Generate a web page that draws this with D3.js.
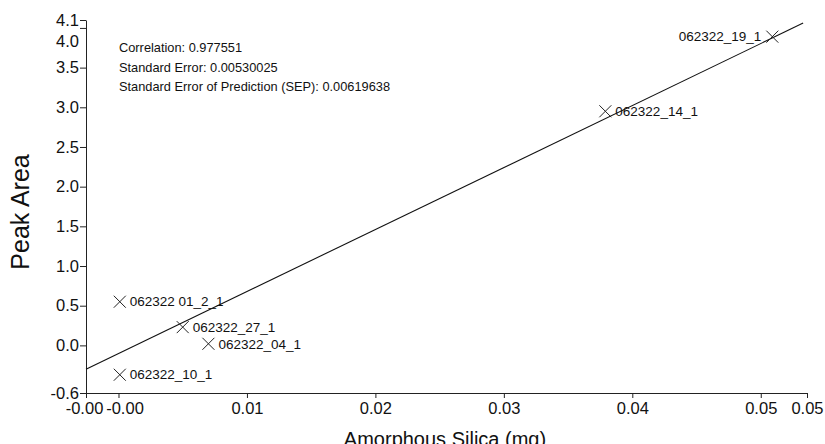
<!DOCTYPE html>
<html>
<head>
<meta charset="utf-8">
<script src="https://cdn.jsdelivr.net/npm/d3@7"></script>
<style>
  body { margin: 0; background: #fff; }
  text { font-family: "Liberation Sans", Arial, sans-serif; fill: #111; }
</style>
</head>
<body>
<div id="chart"></div>
<script>
// sample names and measured values
const samples = ["062322 01_2_1", "062322_27_1", "062322_04_1", "062322_10_1", "062322_14_1", "062322_19_1"];
const silica = [0.0001, 0.0050, 0.0070, 0.0001, 0.0379, 0.0509];
const peakArea = [0.55, 0.23, 0.02, -0.37, 2.95, 3.89];

// regression line (slope, intercept) and its x extent
const fitSlope = 78.1;
const fitIntercept = -0.102;
const fitRange = [-0.00253, 0.0533];

const xTicks = [-0.00253, 0, 0.01, 0.02, 0.03, 0.04, 0.05, 0.0536];
const xTickLabels = ["-0.00", "-0.00", "0.01", "0.02", "0.03", "0.04", "0.05", "0.05"];
const yTicks = [-0.6, 0, 0.5, 1, 1.5, 2, 2.5, 3, 3.5, 4, 4.1];
const yTickLabels = ["-0.6", "0.0", "0.5", "1.0", "1.5", "2.0", "2.5", "3.0", "3.5", "4.0", "4.1"];

const stats = [
    "Correlation: 0.977551",
    "Standard Error: 0.00530025",
    "Standard Error of Prediction (SEP): 0.00619638"
];

const W = 825, H = 444;
const svg = d3.select("#chart").append("svg")
    .attr("width", W)
    .attr("height", H);

const x = d3.scaleLinear().domain([-0.00253, 0.0536]).range([86, 807]);
const y = d3.scaleLinear().domain([-0.6, 4.1]).range([393, 20]);

// x axis
const xAxis = svg.append("g")
    .attr("transform", `translate(0, ${y(-0.6)})`)
    .call(d3.axisBottom(x)
        .tickValues(xTicks)
        .tickFormat((d, i) => xTickLabels[i])
        .tickSize(5)
        .tickSizeOuter(0)
        .tickPadding(4));
xAxis.selectAll("text")
    .style("font-size", "16.5px")
    .style("font-family", "Liberation Sans, Arial, sans-serif");
// the two "-0.00" labels sit side by side, nudge them apart
xAxis.selectAll(".tick text")
    .attr("dx", (d, i) => i === 0 ? -2 : (i === 1 ? 6 : 0));

// y axis
const yAxis = svg.append("g")
    .attr("transform", `translate(${x(-0.00253)}, 0)`)
    .call(d3.axisLeft(y)
        .tickValues(yTicks)
        .tickFormat((d, i) => yTickLabels[i])
        .tickSize(6)
        .tickSizeOuter(0)
        .tickPadding(1));
yAxis.selectAll("text")
    .style("font-size", "16.5px")
    .style("font-family", "Liberation Sans, Arial, sans-serif");
// 4.0 label is pushed below its tick so it doesn't sit on 4.1
yAxis.selectAll(".tick")
    .filter(d => d === 4)
    .select("text")
    .attr("y", 13);

svg.selectAll(".domain, .tick line").attr("stroke", "#222");

// regression line
svg.append("line")
    .attr("x1", x(fitRange[0]))
    .attr("y1", y(fitSlope * fitRange[0] + fitIntercept))
    .attr("x2", x(fitRange[1]))
    .attr("y2", y(fitSlope * fitRange[1] + fitIntercept))
    .attr("stroke", "#111")
    .attr("stroke-width", 1.1);

// points as X marks
const pts = samples.map((s, i) => ({name: s, x: silica[i], y: peakArea[i]}));
const m = 6;
const pg = svg.selectAll(".pt")
    .data(pts)
    .enter()
    .append("g")
    .attr("class", "pt")
    .attr("transform", d => `translate(${x(d.x)}, ${y(d.y)})`);

pg.append("path")
    .attr("d", `M${-m},${-m}L${m},${m}M${-m},${m}L${m},${-m}`)
    .attr("stroke", "#222")
    .attr("stroke-width", 1);

pg.append("text")
    .attr("x", d => d.name === "062322_19_1" ? -11 : 10)
    .attr("y", 0)
    .attr("dy", "0.35em")
    .attr("text-anchor", d => d.name === "062322_19_1" ? "end" : "start")
    .style("font-size", "13.5px")
    .text(d => d.name);

// stats box text
svg.append("g").selectAll("text")
    .data(stats)
    .enter()
    .append("text")
    .attr("x", 119)
    .attr("y", (d, i) => 52 + i * 19.5)
    .style("font-size", "12.8px")
    .text(d => d);

// axis titles
svg.append("text")
    .attr("text-anchor", "middle")
    .attr("x", 445)
    .attr("y", 446)
    .style("font-size", "20px")
    .text("Amorphous Silica (mg)");

svg.append("text")
    .attr("text-anchor", "middle")
    .attr("transform", "rotate(-90)")
    .attr("x", -212)
    .attr("y", 29)
    .style("font-size", "25px")
    .text("Peak Area");
</script>
</body>
</html>
